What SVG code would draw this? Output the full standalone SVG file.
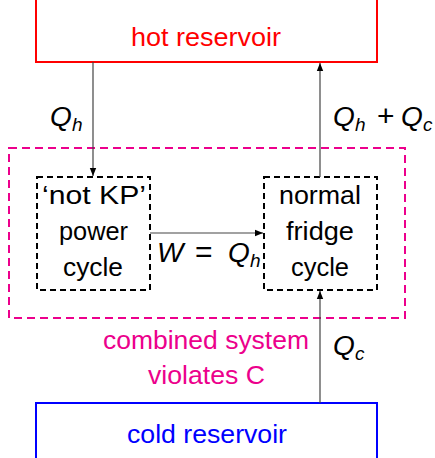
<svg xmlns="http://www.w3.org/2000/svg" width="435" height="458" viewBox="0 0 435 458">
<defs>
<marker id="ah" viewBox="0 0 10 10" refX="10" refY="5" markerWidth="8" markerHeight="8" markerUnits="userSpaceOnUse" orient="auto">
<path d="M0,1 L10,5 L0,9 Z" fill="#000"/>
</marker>
</defs>
<style>
text{font-family:"Liberation Sans",Arial,sans-serif;font-size:26px;text-anchor:start}
.m{font-style:italic;font-size:28px;fill:#000}
.s{font-style:italic;font-size:19px;fill:#000}
.o{font-size:30px;fill:#000}
.c{fill:#000}
.dash{fill:none;stroke:#000;stroke-width:2;stroke-dasharray:6,4}
.pink{fill:none;stroke:#ec008c;stroke-width:2;stroke-dasharray:8,5}
.conn{stroke:#444;stroke-width:1.2;fill:none}
</style>
<g id="hot">
<path d="M36,0 V62 H377 V0" fill="none" stroke="#ff0000" stroke-width="2"/>
<text x="131" y="46" fill="#ff0000" textLength="150" lengthAdjust="spacingAndGlyphs">hot reservoir</text>
</g>
<g id="combined">
<rect x="9" y="148" width="396" height="170" class="pink"/>
<text x="103" y="349" fill="#ec008c" textLength="206" lengthAdjust="spacingAndGlyphs">combined system</text>
<text x="148" y="384" fill="#ec008c" textLength="117" lengthAdjust="spacingAndGlyphs">violates C</text>
</g>
<g id="power">
<rect x="37" y="177" width="113" height="113" class="dash"/>
<text x="42" y="204" class="c" textLength="104" lengthAdjust="spacingAndGlyphs">‘not KP’</text>
<text x="59" y="240" class="c" textLength="69" lengthAdjust="spacingAndGlyphs">power</text>
<text x="63" y="276" class="c" textLength="60" lengthAdjust="spacingAndGlyphs">cycle</text>
</g>
<g id="fridge">
<rect x="264" y="177" width="113" height="113" class="dash"/>
<text x="279" y="204" class="c" textLength="82" lengthAdjust="spacingAndGlyphs">normal</text>
<text x="286" y="240" class="c" textLength="68" lengthAdjust="spacingAndGlyphs">fridge</text>
<text x="291" y="276" class="c" textLength="58" lengthAdjust="spacingAndGlyphs">cycle</text>
</g>
<g id="cold">
<path d="M36,458 V403 H377 V458" fill="none" stroke="#0000ff" stroke-width="2"/>
<text x="127" y="443" fill="#0000ff" textLength="160" lengthAdjust="spacingAndGlyphs">cold reservoir</text>
</g>
<g id="connectors">
<line x1="93" y1="62" x2="93" y2="176" class="conn" marker-end="url(#ah)"/>
<line x1="320" y1="177" x2="320" y2="63" class="conn" marker-end="url(#ah)"/>
<line x1="150" y1="233" x2="263" y2="233" class="conn" marker-end="url(#ah)"/>
<line x1="320" y1="403" x2="320" y2="291" class="conn" marker-end="url(#ah)"/>
</g>
<g id="labels">
<text x="50" y="126" class="m">Q</text><text x="72" y="131" class="s">h</text>
<text x="333" y="126" class="m">Q</text><text x="355" y="131" class="s">h</text>
<text x="377" y="126" class="o">+</text>
<text x="401" y="126" class="m">Q</text><text x="423" y="131" class="s">c</text>
<text x="157" y="262" class="m">W</text>
<text x="195" y="262" class="o">=</text>
<text x="228" y="262" class="m">Q</text><text x="250" y="267" class="s">h</text>
<text x="333" y="355" class="m">Q</text><text x="355" y="360" class="s">c</text>
</g>
</svg>
